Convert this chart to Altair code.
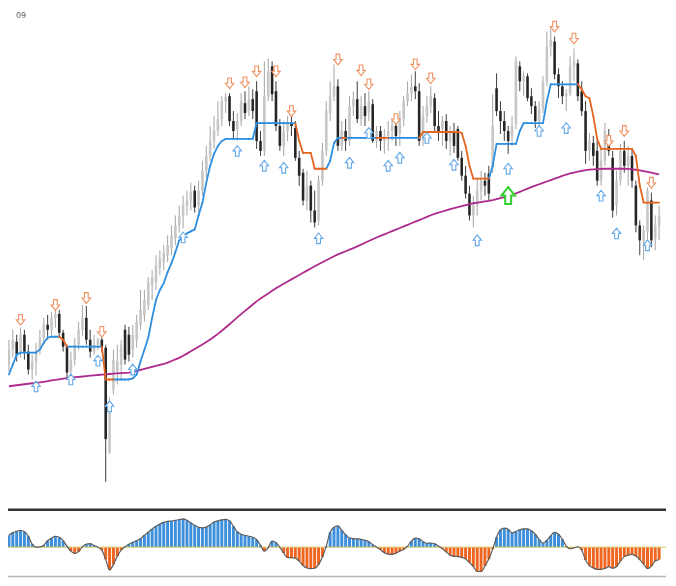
import altair as alt
import pandas as pd

N = 169

OPEN = [143,158,166,156,173,156,138,146,158,170,
        183,178,190,194,175,161,136,148,163,178,
        190,168,156,163,168,160,55,118,136,143,
        178,173,158,168,183,193,203,223,226,240,
        246,253,260,270,283,293,303,308,318,303,
        318,338,353,368,378,390,408,413,388,380,
        388,406,398,410,418,368,358,413,443,418,
        383,363,378,386,381,351,336,308,323,298,
        288,328,358,396,413,423,363,378,368,403,
        410,390,403,396,405,368,378,368,373,378,
        383,375,390,408,416,423,418,370,393,403,
        411,383,380,388,368,378,380,351,333,315,
        293,303,318,328,335,341,421,398,388,378,
        373,385,443,428,433,413,403,388,400,428,
        463,468,435,423,413,416,443,446,418,398,
        358,366,358,328,348,373,351,303,328,358,
        343,353,323,283,268,276,308,270,283]

CLOSE = [158,168,153,173,156,138,146,158,170,183,
         178,190,194,175,161,135,148,163,178,190,
         168,156,163,168,160,68,105,148,146,163,
         148,153,173,186,198,208,226,230,243,250,
         256,263,273,283,293,303,308,316,301,318,
         338,353,368,378,390,408,412,388,378,388,
         408,396,410,398,368,358,413,438,415,383,
         363,378,386,383,351,333,308,323,298,286,
         328,358,398,413,423,363,378,368,403,410,
         390,403,393,408,368,378,368,373,378,383,
         373,390,408,416,423,418,368,393,403,413,
         383,378,388,368,378,363,351,333,315,293,
         303,318,328,323,315,383,398,388,378,368,
         383,448,428,433,411,403,388,400,428,463,
         470,435,423,413,416,443,448,413,398,358,
         368,353,328,348,378,358,298,328,358,343,
         353,328,283,268,278,318,268,283,293]

HIGH = [168,178,173,180,178,163,153,165,178,190,
        193,196,200,198,178,163,156,170,186,203,
        202,178,173,170,170,163,110,158,163,168,
        183,181,183,193,218,218,231,238,253,258,
        263,273,283,293,303,313,318,326,323,328,
        348,363,383,393,408,413,416,416,398,396,
        416,418,423,420,428,378,448,451,448,428,
        390,388,393,396,388,358,340,338,328,318,
        333,366,408,428,445,430,388,390,413,418,
        428,413,416,418,410,383,383,380,388,390,
        390,398,413,428,435,438,426,403,413,423,
        416,398,393,395,383,386,383,358,343,323,
        313,330,338,336,343,415,436,408,398,383,
        393,453,448,438,436,421,408,408,433,478,
        481,473,441,428,420,453,461,450,428,408,
        376,373,368,363,386,380,358,338,365,368,
        363,360,328,288,283,321,316,293,303]

LOW = [136,150,146,150,148,133,128,132,153,163,
       168,172,180,170,156,130,130,142,158,172,
       163,150,153,158,156,25,53,113,123,128,
       143,146,150,160,178,186,198,208,218,233,
       238,246,253,263,276,280,293,298,296,296,
       313,330,348,360,373,383,396,383,370,368,
       383,390,393,390,360,353,353,408,408,378,
       358,353,368,373,348,323,303,298,286,281,
       283,323,353,388,408,358,358,358,363,393,
       386,383,383,388,366,361,358,355,358,368,
       363,363,383,403,408,410,363,363,386,396,
       378,368,363,360,353,356,348,328,310,288,
       281,293,308,313,308,336,393,375,368,355,
       363,380,418,413,408,395,381,381,396,423,
       453,430,411,405,398,413,428,408,393,345,
       348,343,323,323,343,353,291,293,323,336,
       323,321,276,253,248,268,261,258,268]

TREND = [133,143,153,155,155,155,155,155,158,165,
         170,171,171,171,168,161,161,161,161,161,
         161,161,161,161,161,128,128,128,128,128,
         128,128,129,133,146,158,170,190,208,218,
         225,236,245,256,268,272,275,277,279,293,
         306,326,343,355,363,368,370,370,370,370,
         370,370,370,370,386,386,386,386,386,386,
         386,386,386,386,386,368,356,356,356,340,
         340,340,340,348,366,371,371,371,371,371,
         371,371,371,371,371,371,371,371,371,371,
         371,371,371,371,371,371,371,377,377,377,
         377,377,377,377,377,377,377,376,363,343,
         330,330,330,330,330,343,365,365,365,365,
         365,365,378,386,386,386,386,386,386,408,
         425,425,425,425,425,425,425,425,420,413,
         411,393,370,360,360,360,360,360,360,360,
         360,360,353,323,306,306,306,306,306]

TREND_UP = [1,1,1,1,1,1,1,1,1,1,
            1,1,1,1,0,0,1,1,1,1,
            1,1,1,1,1,0,0,0,1,1,
            1,1,1,1,1,1,1,1,1,1,
            1,1,1,1,1,1,1,1,1,1,
            1,1,1,1,1,1,1,1,1,1,
            1,1,1,1,1,1,1,1,1,1,
            1,1,1,1,1,0,0,0,0,0,
            0,0,0,1,1,1,1,0,1,1,
            1,1,1,1,1,1,0,0,0,1,
            1,1,1,1,1,1,1,0,0,0,
            0,0,0,0,0,0,0,0,0,0,
            0,0,0,0,0,1,1,1,1,1,
            1,1,1,1,1,1,1,1,1,1,
            1,1,1,1,1,1,1,1,0,0,
            0,0,0,0,0,0,0,0,0,0,
            0,0,0,0,0,0,0,0,0]

MA = [121.2,121.7,122.2,122.7,123.2,123.7,124.2,124.6,125.1,125.7,
      126.3,127.0,127.6,128.2,128.8,129.4,130.0,130.3,130.7,131.0,
      131.4,131.8,132.2,132.5,132.9,133.2,133.5,133.8,134.1,134.4,
      134.7,135.0,135.4,136.4,137.6,138.6,139.6,140.6,141.6,142.6,
      143.6,145.0,146.6,148.2,149.8,151.8,154.0,156.3,158.6,160.9,
      163.2,165.6,168.2,171.0,173.9,177.0,180.3,183.6,187.0,190.5,
      193.8,197.0,200.2,203.4,206.6,209.4,212.0,214.6,217.2,219.8,
      222.1,224.3,226.5,228.7,230.9,233.1,235.3,237.5,239.7,241.9,
      244.0,246.0,248.0,250.0,252.0,253.8,255.4,257.0,258.6,260.2,
      261.9,263.7,265.5,267.3,269.1,270.8,272.4,274.0,275.6,277.2,
      278.8,280.4,282.0,283.6,285.2,286.8,288.4,290.0,291.6,293.2,
      294.6,295.8,297.0,298.2,299.4,300.5,301.5,302.5,303.5,304.5,
      305.3,305.9,306.5,307.1,307.7,308.4,309.4,310.4,311.4,312.4,
      313.6,315.2,316.8,318.4,320.0,321.6,323.0,324.4,325.8,327.2,
      328.6,330.0,331.4,332.8,334.2,335.4,336.2,337.0,337.8,338.6,
      339.1,339.4,339.6,339.8,340.0,340.0,340.0,340.0,340.0,340.0,
      339.8,339.4,339.0,338.4,337.6,336.8,336.0,335.2,334.4]

OSC = [12,14.6,16,17,15.5,11,3,0,0.2,2,
       6.5,9,11,10,6.5,1,-4,-6.3,-4.5,0.5,
       3,3.5,1.7,0,-3,-12.3,-23,-17.3,-9,-3,
       0.5,3,5,6.5,8.5,12,15,18.4,21,23.4,
       25,26,26.3,27,27.8,28.4,27,24.5,22,20,
       19.5,20.2,22.5,25.3,26.5,27.5,28,26.5,21,15.5,
       13,12,11,10,7.5,2,-4,-0.6,6,4.5,
       0,-6,-10.6,-10.6,-11,-14,-18.5,-21,-21.6,-21.2,
       -17.5,-10,1,15,20,21.5,17,12.5,9.2,8.6,
       8.4,8,7,5.5,2.5,0,-2.5,-5.5,-7,-7.2,
       -6,-4,-2.3,1,6,9,8.5,5.5,3.8,4.2,
       3.5,1,-1.6,-4.8,-8,-9.2,-9.5,-10.3,-11.8,-15.5,
       -19.5,-24.5,-24.5,-19,-12,-2,10,17.5,19.2,18,
       14.4,15.8,17.5,18.4,18.4,16.5,13,7.7,4,7,
       11.5,14.8,13,8,1,-1.6,-0.8,0.4,-3,-13,
       -18.5,-21,-22.3,-22.3,-21.5,-19.6,-21.2,-19.5,-14,-9.5,
       -8,-7.3,-9,-12.5,-17,-21.6,-19,-14,-12.5]

DOWN_BARS = [3,12,20,24,57,61,64,69,73,85,91,93,100,105,109,141,146,155,159,166]
DOWN_PRICES = [188,203,210,176,426,427,438,438,398,450,439,425,390,445,431,483,471,368,378,326]
UP_BARS = [7,16,23,26,32,45,59,66,71,80,88,93,98,101,108,115,121,129,137,144,153,157,165]
UP_PRICES = [121,128,147,101,138,271,358,343,341,270,346,376,343,351,371,344,268,340,378,381,313,275,263]
SIGNAL_BARS = [129]
SIGNAL_PRICES = [313]
CORNER_LABEL = "09"

bars = pd.DataFrame({
    "bar": list(range(N)), "open": OPEN, "close": CLOSE, "high": HIGH, "low": LOW,
    "ma": MA, "osc": OSC,
})
bars["dir"] = ["up" if c >= o else "down" for o, c in zip(OPEN, CLOSE)]
bars["zero"] = 0.0

seg = pd.DataFrame({
    "bar": list(range(N - 1)), "bar2": list(range(1, N)),
    "v": TREND[:-1], "v2": TREND[1:], "up": TREND_UP[1:],
})

xs = alt.Scale(domain=[-0.5, N - 0.5], nice=False, zero=False)
ys = alt.Scale(domain=[-1, 508], nice=False, zero=False)
hs = alt.Scale(domain=[-30.3, 38.7], nice=False, zero=False)
X = alt.X("bar:Q", scale=xs, axis=None)

def Y(f):
    return alt.Y(f, scale=ys, axis=None)

base = alt.Chart(bars)
wick_up = base.transform_filter("datum.dir == 'up'").mark_rule(color="#a4a4a4", strokeWidth=1).encode(
    x=X, y=Y("low:Q"), y2="high:Q")
wick_dn = base.transform_filter("datum.dir == 'down'").mark_rule(color="#3c3c3c", strokeWidth=1).encode(
    x=X, y=Y("low:Q"), y2="high:Q")
body_up = base.transform_filter("datum.dir == 'up'").mark_bar(size=2.6, color="#c6c6c6").encode(
    x=X, y=Y("open:Q"), y2="close:Q")
body_dn = base.transform_filter("datum.dir == 'down'").mark_bar(size=2.6, color="#262626").encode(
    x=X, y=Y("open:Q"), y2="close:Q")

ma_line = base.mark_line(color="#ad2a8c", strokeWidth=1.8).encode(x=X, y=Y("ma:Q"))

segb = alt.Chart(seg)
tr_up = segb.transform_filter("datum.up == 1").mark_rule(color="#2e8ee0", strokeWidth=1.8, strokeCap="round").encode(
    x=X, x2="bar2:Q", y=Y("v:Q"), y2="v2:Q")
tr_dn = segb.transform_filter("datum.up == 0").mark_rule(color="#e5641f", strokeWidth=1.8, strokeCap="round").encode(
    x=X, x2="bar2:Q", y=Y("v:Q"), y2="v2:Q")

UP_PATH = "M-0.35,1 L0.35,1 L0.35,0 L0.8,0 L0,-1 L-0.8,0 L-0.35,0 Z"
DOWN_PATH = "M-0.35,-1 L0.35,-1 L0.35,0 L0.8,0 L0,1 L-0.8,0 L-0.35,0 Z"

down_df = pd.DataFrame({"bar": DOWN_BARS, "p": DOWN_PRICES})
up_df = pd.DataFrame({"bar": UP_BARS, "p": UP_PRICES})
sig_df = pd.DataFrame({"bar": SIGNAL_BARS, "p": SIGNAL_PRICES})

down_arrows = alt.Chart(down_df).mark_point(shape=DOWN_PATH, size=115, filled=True, fill="white",
                                            stroke="#f0905f", strokeWidth=1.1, opacity=1).encode(x=X, y=Y("p:Q"))
up_arrows = alt.Chart(up_df).mark_point(shape=UP_PATH, size=115, filled=True, fill="white",
                                        stroke="#62a8e8", strokeWidth=1.1, opacity=1).encode(x=X, y=Y("p:Q"))
sig_arrow = alt.Chart(sig_df).mark_point(shape=UP_PATH, size=290, filled=True, fill="white",
                                         stroke="#2fd02f", strokeWidth=2, opacity=1).encode(x=X, y=Y("p:Q"))

corner = alt.Chart(pd.DataFrame({"bar": [-0.5], "p": [503], "t": [CORNER_LABEL]})).mark_text(
    align="left", baseline="middle", fontSize=8, color="#555555", font="DejaVu Sans", dx=9, dy=9).encode(
    x=X, y=Y("p:Q"), text="t:N")

upper = alt.layer(wick_up, wick_dn, body_up, body_dn, ma_line, tr_up, tr_dn,
                  down_arrows, up_arrows, sig_arrow, corner).properties(width=668, height=509)

HY = alt.Y("osc:Q", scale=hs, axis=None)
pos = base.transform_filter("datum.osc >= 0").mark_bar(size=3.0, color="#3f90dc").encode(x=X, y=HY, y2="zero:Q")
neg = base.transform_filter("datum.osc < 0").mark_bar(size=3.0, color="#ef6522").encode(x=X, y=HY, y2="zero:Q")
outline = base.mark_line(color="#5b5b5b", strokeWidth=1.2, interpolate="monotone").encode(x=X, y=HY)
zero_line = alt.Chart(pd.DataFrame({"z": [0.0]})).mark_rule(color="#d9c65c", strokeWidth=1).encode(
    y=alt.Y("z:Q", scale=hs, axis=None))
top_line = alt.Chart(pd.DataFrame({"z": [37.7]})).mark_rule(color="#333333", strokeWidth=2.5).encode(
    y=alt.Y("z:Q", scale=hs, axis=None))
bottom_line = alt.Chart(pd.DataFrame({"z": [-29.6]})).mark_rule(color="#b5b5b5", strokeWidth=1.5).encode(
    y=alt.Y("z:Q", scale=hs, axis=None))

lower = alt.layer(pos, neg, zero_line, outline, top_line, bottom_line).properties(width=668, height=69)

chart = alt.vconcat(upper, lower, spacing=0).properties(
    padding={"left": -8, "top": -8, "right": 0, "bottom": 0}, background="white"
).configure_view(stroke=None)

chart.save("out.html", embed_options={"renderer": "svg", "actions": False})
